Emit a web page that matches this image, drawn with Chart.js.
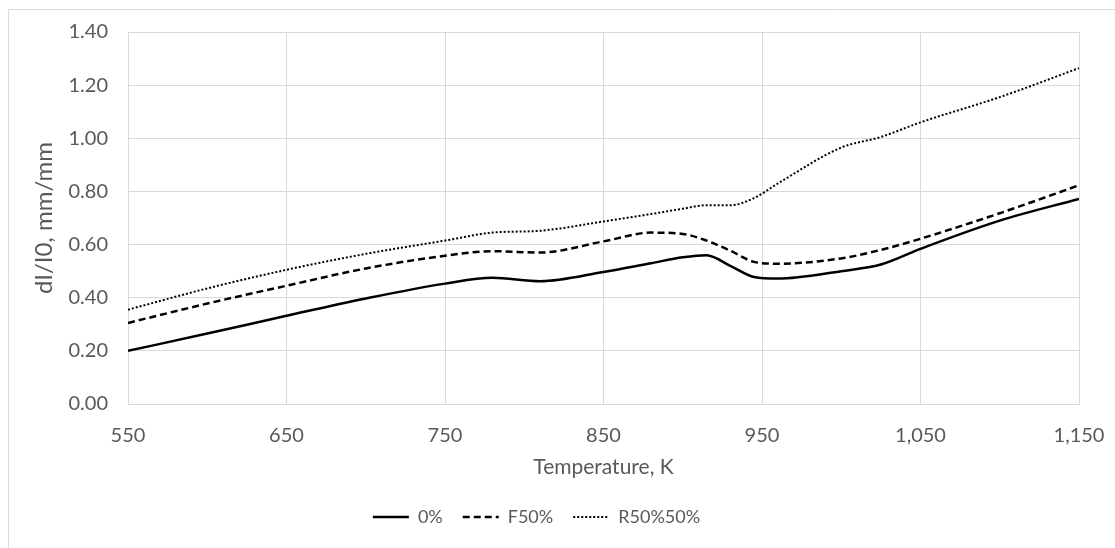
<!DOCTYPE html>
<html>
<head>
<meta charset="utf-8">
<script src="https://cdn.jsdelivr.net/npm/chart.js@4/dist/chart.umd.min.js"></script>
<style>
  html, body { margin: 0; padding: 0; background: #fff; }
  #wrap { width: 1115px; height: 548px; }
</style>
</head>
<body>
<div id="wrap"><canvas id="linechart" width="1115" height="548"></canvas></div>
<script>
// temperature grid, K
var temps = [550, 600, 650, 700, 750, 780, 810, 850, 880, 900, 915, 930, 945, 960, 1000, 1025, 1050, 1100, 1150];

// dl/l0, mm/mm
var s0   = [0.200, 0.265, 0.332, 0.397, 0.453, 0.475, 0.462, 0.497, 0.530, 0.552, 0.560, 0.520, 0.478, 0.472, 0.500, 0.525, 0.584, 0.690, 0.772];
var f50  = [0.305, 0.378, 0.445, 0.510, 0.558, 0.575, 0.570, 0.612, 0.645, 0.640, 0.615, 0.577, 0.535, 0.528, 0.548, 0.580, 0.622, 0.718, 0.823];
var r50  = [0.355, 0.435, 0.505, 0.565, 0.615, 0.645, 0.652, 0.687, 0.715, 0.735, 0.748, 0.748, 0.775, 0.830, 0.965, 1.005, 1.060, 1.155, 1.264];

var seriesNames = ["0%", "F50%", "R50%50%"];

function pts(arr) {
  return temps.map(function(t, i) { return { x: t, y: arr[i] }; });
}

var gray = "#595959";
var gridColor = "#d9d9d9";
var fontFam = "Lato, 'Open Sans', sans-serif";

// light frame around the chart like the excel chart border
// + nudge legend a bit left (excel centres it on its own frame)
var framePlugin = {
  id: "frame",
  afterLayout: function(chart) {
    var lg = chart.legend;
    lg.left -= 18;
    lg.right -= 18;
  },
  beforeDraw: function(chart) {
    var c = chart.ctx;
    c.save();
    c.strokeStyle = gridColor;
    c.lineWidth = 1;
    c.beginPath();
    c.moveTo(8.5, chart.height);
    c.lineTo(8.5, 9.5);
    c.lineTo(chart.width, 9.5);
    c.stroke();
    c.restore();
  }
};

var ctx = document.getElementById("linechart").getContext("2d");
var myLineChart = new Chart(ctx, {
  type: "line",
  data: {
    datasets: [
      {
        label: seriesNames[0],
        data: pts(s0),
        borderColor: "#000",
        backgroundColor: "#000",
        borderWidth: 2.5,
        pointRadius: 0,
        pointStyle: "line",
        cubicInterpolationMode: "monotone"
      },
      {
        label: seriesNames[1],
        data: pts(f50),
        borderColor: "#000",
        backgroundColor: "#000",
        borderWidth: 2.5,
        borderDash: [7, 4],
        pointRadius: 0,
        pointStyle: "line",
        cubicInterpolationMode: "monotone"
      },
      {
        label: seriesNames[2],
        data: pts(r50),
        borderColor: "#000",
        backgroundColor: "#000",
        borderWidth: 2,
        borderDash: [2, 2],
        pointRadius: 0,
        pointStyle: "line",
        cubicInterpolationMode: "monotone"
      }
    ]
  },
  options: {
    responsive: false,
    animation: false,
    layout: { padding: { left: 30, right: 36, top: 32, bottom: 12 } },
    plugins: {
      tooltip: { enabled: false },
      legend: {
        position: "bottom",
        labels: {
          usePointStyle: true,
          pointStyleWidth: 36,
          color: gray,
          padding: 20,
          font: { family: fontFam, size: 18 },
          generateLabels: function(chart) {
            return chart.data.datasets.map(function(ds, i) {
              return {
                text: ds.label,
                datasetIndex: i,
                fillStyle: ds.borderColor,
                strokeStyle: ds.borderColor,
                fontColor: gray,
                lineWidth: ds.borderWidth,
                lineDash: ds.borderDash || [],
                pointStyle: "line",
                hidden: false
              };
            });
          }
        }
      }
    },
    scales: {
      x: {
        type: "linear",
        min: 550,
        max: 1150,
        ticks: {
          stepSize: 100,
          color: gray,
          padding: 20,
          font: { family: fontFam, size: 20 },
          callback: function(v) { return v.toLocaleString("en-US"); }
        },
        grid: { color: gridColor, drawTicks: false },
        border: { color: gridColor },
        title: {
          display: true,
          text: "Temperature, K",
          color: gray,
          font: { family: fontFam, size: 21 },
          padding: { top: 0, bottom: 8 }
        },
        afterFit: function(axis) {
          axis.height = 84;
          axis.paddingRight = 0;
        }
      },
      y: {
        min: 0,
        max: 1.4,
        ticks: {
          stepSize: 0.2,
          color: gray,
          padding: 20,
          font: { family: fontFam, size: 20 },
          callback: function(v) { return v.toFixed(2); }
        },
        grid: { color: gridColor, drawTicks: false },
        border: { display: false },
        title: {
          display: true,
          text: "dI/I0, mm/mm",
          color: gray,
          font: { family: fontFam, size: 24 },
          padding: { top: 0, bottom: 1 }
        },
        afterFit: function(axis) { axis.width = 98; }
      }
    }
  },
  plugins: [framePlugin]
});
</script>
</body>
</html>
